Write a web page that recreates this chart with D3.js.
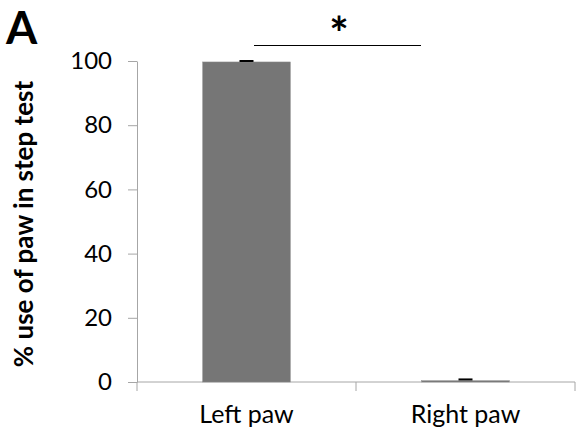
<!DOCTYPE html>
<html>
<head>
<meta charset="utf-8">
<script src="https://cdn.jsdelivr.net/npm/d3@7"></script>
<style>
  body { margin: 0; background: #fff; }
  text { font-family: Lato, "Open Sans", sans-serif; }
</style>
</head>
<body>
<svg id="chart" width="580" height="441"></svg>
<script>
var categories = ['Left paw', 'Right paw'];
var values = [99.7, 0.4];
var errors = [0.3, 0.4];
var yTicks = [0, 20, 40, 60, 80, 100];

var svg = d3.select('#chart');
var axisColor = '#a6a6a6';

var x = d3.scaleBand().domain(categories).range([137, 575]);
var y = d3.scaleLinear().domain([0, 100]).range([382, 61]);

// y axis
var yAxis = svg.append('g').attr('transform', 'translate(137,0)')
  .call(d3.axisLeft(y).tickValues(yTicks).tickSize(9).tickSizeOuter(0));
yAxis.select('.domain').attr('stroke', axisColor);
yAxis.selectAll('.tick line').attr('stroke', axisColor);
yAxis.selectAll('.tick text')
  .attr('fill', '#000')
  .style('font-size', '24px')
  .attr('x', -25);

// x axis with ticks at band edges
var xg = svg.append('g').attr('transform', 'translate(0,382)');
xg.append('line')
  .attr('x1', x.range()[0]).attr('x2', x.range()[1])
  .attr('stroke', axisColor);
var edges = categories.map(function (c) { return x(c); }).concat([x.range()[1]]);
xg.selectAll('.edge').data(edges).enter().append('line')
  .attr('x1', function (d) { return d; }).attr('x2', function (d) { return d; })
  .attr('y1', 0).attr('y2', 9)
  .attr('stroke', axisColor);
xg.selectAll('.lbl').data(categories).enter().append('text')
  .attr('x', function (c) { return x(c) + x.bandwidth() / 2; })
  .attr('y', 41)
  .attr('text-anchor', 'middle')
  .style('font-size', '25px')
  .text(function (c) { return c; });

// bars
var barW = x.bandwidth() * 0.4;
svg.selectAll('.bar').data(values).enter().append('rect')
  .attr('x', function (d, i) { return x(categories[i]) + (x.bandwidth() - barW) / 2; })
  .attr('y', function (d) { return y(d); })
  .attr('width', barW)
  .attr('height', function (d) { return y(0) - y(d); })
  .attr('fill', '#767676')
  .attr('stroke', '#8a8a8a')
  .attr('stroke-width', 0.5);

// error bars (upper only)
svg.selectAll('.err').data(values).enter().append('line')
  .attr('x1', function (d, i) { return x(categories[i]) + x.bandwidth() / 2 - 7; })
  .attr('x2', function (d, i) { return x(categories[i]) + x.bandwidth() / 2 + 7; })
  .attr('y1', function (d, i) { return y(d + errors[i]); })
  .attr('y2', function (d, i) { return y(d + errors[i]); })
  .attr('stroke', '#000')
  .attr('stroke-width', 2);

// significance
svg.append('line')
  .attr('x1', 254).attr('x2', 421).attr('y1', 45.5).attr('y2', 45.5)
  .attr('stroke', '#000').attr('stroke-width', 1.2);
svg.append('text')
  .attr('x', 339).attr('y', 50)
  .attr('text-anchor', 'middle')
  .style('font-size', '46px').style('font-weight', 'bold')
  .text('*');

// y label
svg.append('text')
  .attr('transform', 'translate(33,224) rotate(-90)')
  .attr('text-anchor', 'middle')
  .style('font-size', '26px').style('font-weight', 'bold')
  .text('% use of paw in step test');

// panel letter
svg.append('text')
  .attr('x', 6).attr('y', 44)
  .style('font-size', '45px').style('font-weight', 'bold')
  .text('A');
</script>
</body>
</html>
